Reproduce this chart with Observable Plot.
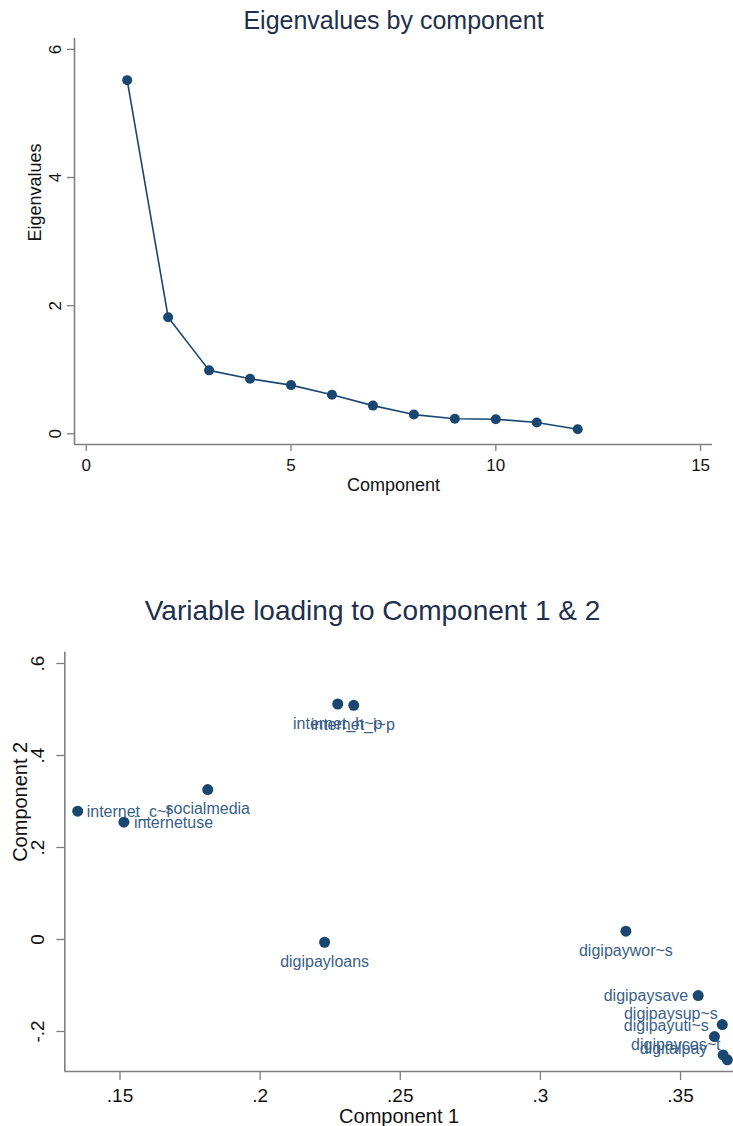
<!DOCTYPE html>
<html><head><meta charset="utf-8">
<script src="https://cdn.jsdelivr.net/npm/d3@7"></script>
<script src="https://cdn.jsdelivr.net/npm/@observablehq/plot@0.6"></script>
<style>
body{margin:0;background:#fff;}
#wrap{position:relative;width:733px;height:1126px;overflow:hidden;background:#fff;}
#top{position:absolute;left:0;top:0;}
#bottom{position:absolute;left:0;top:500px;}
svg{overflow:visible;}
</style></head><body><div id="wrap"><div id="top"></div><div id="bottom"></div></div>
<script>
// ---- Data: scree plot ----
const components = [1, 2, 3, 4, 5, 6, 7, 8, 9, 10, 11, 12];
const eigenvalues = [5.52, 1.82, 0.99, 0.86, 0.76, 0.61, 0.44, 0.30, 0.235, 0.228, 0.177, 0.072];
const eigenTicksX = [0, 5, 10, 15];
const eigenTickLabelsX = ["0", "5", "10", "15"];
const eigenTicksY = [0, 2, 4, 6];
const eigenTickLabelsY = ["0", "2", "4", "6"];

// ---- Data: loading plot ----
const varNames = ["internet_c~f", "internetuse", "socialmedia", "internet_h~p", "internet_i~p",
  "digipayloans", "digipaywor~s", "digipaysave", "digipaysup~s", "digipayuti~s", "digipaycos~t", "digitalpay"];
const comp1 = [0.1349, 0.1514, 0.1813, 0.2277, 0.2334, 0.2230, 0.3305, 0.3563, 0.3649, 0.3621, 0.3652, 0.3667];
const comp2 = [0.279, 0.255, 0.326, 0.512, 0.509, -0.006, 0.018, -0.122, -0.185, -0.211, -0.251, -0.2615];
const loadTicksX = [0.15, 0.2, 0.25, 0.3, 0.35];
const loadTickLabelsX = [".15", ".2", ".25", ".3", ".35"];
const loadTicksY = [-0.2, 0, 0.2, 0.4, 0.6];
const loadTickLabelsY = ["-.2", "0", ".2", ".4", ".6"];

// ---- Styles ----
const font = "'Liberation Sans', Arial, Helvetica, sans-serif";
const navy = "#1a476f";
const labelColor = "#3a5f88";
const axisGray = "#7f7f7f";
const textColor = "#111111";
const titleColor = "#1f2f4d";

// ---- Top chart ----
const eig = components.map((c, i) => ({c, v: eigenvalues[i]}));
const xDomTop = [-0.286, 15.29];
const yDomTop = [-0.167, 6.17];
const topChart = Plot.plot({
  width: 733, height: 500,
  marginLeft: 74, marginRight: 21, marginTop: 38, marginBottom: 56,
  style: {fontFamily: font, background: "#fff", overflow: "visible"},
  x: {domain: xDomTop},
  y: {domain: yDomTop},
  marks: [
    Plot.ruleX([xDomTop[0]], {stroke: axisGray, strokeWidth: 1.6}),
    Plot.ruleY([yDomTop[0]], {stroke: axisGray, strokeWidth: 1.6}),
    Plot.axisX({ticks: eigenTicksX, tickFormat: d => eigenTickLabelsX[eigenTicksX.indexOf(d)], tickSize: 7, tickPadding: 7, fontSize: 17, color: textColor, stroke: axisGray, strokeWidth: 1.3, label: null}),
    Plot.axisY({ticks: eigenTicksY, tickFormat: d => eigenTickLabelsY[eigenTicksY.indexOf(d)], tickSize: 7, tickPadding: 7, tickRotate: -90, fontSize: 17, color: textColor, stroke: axisGray, strokeWidth: 1.3, label: null}),
    Plot.line(eig, {x: "c", y: "v", stroke: navy, strokeWidth: 1.6}),
    Plot.dot(eig, {x: "c", y: "v", r: 5, fill: navy, stroke: "none"}),
    Plot.text(["Eigenvalues by component"], {text: d => d, frameAnchor: "top", dy: -17.5, lineAnchor: "middle", fontSize: 25, fill: titleColor}),
    Plot.text(["Component"], {text: d => d, frameAnchor: "bottom", dy: 40.5, lineAnchor: "middle", fontSize: 18, fill: textColor}),
    Plot.text(["Eigenvalues"], {text: d => d, frameAnchor: "left", dx: -39, rotate: -90, lineAnchor: "middle", fontSize: 18, fill: textColor})
  ]
});
document.getElementById("top").appendChild(topChart);

// ---- Bottom chart ----
const load = varNames.map((n, i) => ({n, x: comp1[i], y: comp2[i]}));
const placement = {
  "internet_c~f": ["start", 9, 1],
  "internetuse": ["start", 10, 0.6],
  "socialmedia": ["middle", 0, 19],
  "internet_h~p": ["middle", 0, 19.5],
  "internet_i~p": ["middle", -1, 20],
  "digipayloans": ["middle", 0, 19.3],
  "digipaywor~s": ["middle", 0, 19.3],
  "digipaysave": ["end", -10, 0],
  "digipaysup~s": ["end", -4.5, -10.7],
  "digipayuti~s": ["end", -5.7, -11],
  "digipaycos~t": ["end", -2.7, -10],
  "digitalpay": ["end", -20, -11]
};
const labelMarks = varNames.map(name => {
  const [anchor, dx, dy] = placement[name];
  return Plot.text(load.filter(d => d.n === name), {x: "x", y: "y", text: "n", textAnchor: anchor, dx, dy, lineAnchor: "middle", fontSize: 16, fill: labelColor});
});
const xDomBot = [0.1303, 0.3689];
const yDomBot = [-0.287, 0.6246];
const bottomChart = Plot.plot({
  width: 733, height: 626,
  marginLeft: 64.3, marginRight: 0, marginTop: 151.7, marginBottom: 55,
  style: {fontFamily: font, background: "#fff", overflow: "visible"},
  x: {domain: xDomBot},
  y: {domain: yDomBot},
  marks: [
    Plot.ruleX([xDomBot[0]], {stroke: axisGray, strokeWidth: 1.6}),
    Plot.ruleY([yDomBot[0]], {stroke: axisGray, strokeWidth: 1.6}),
    Plot.axisX({ticks: loadTicksX, tickFormat: d => loadTickLabelsX[loadTicksX.indexOf(d)], tickSize: 9, tickPadding: 8, fontSize: 19, color: textColor, stroke: axisGray, strokeWidth: 1.3, label: null}),
    Plot.axisY({ticks: loadTicksY, tickFormat: d => loadTickLabelsY[loadTicksY.indexOf(d)], tickSize: 8, tickPadding: 13, tickRotate: -90, fontSize: 19, color: textColor, stroke: axisGray, strokeWidth: 1.3, label: null}),
    Plot.dot(load, {x: "x", y: "y", r: 5.5, fill: navy, stroke: "none"}),
    ...labelMarks,
    Plot.text(["Variable loading to Component 1 & 2"], {text: d => d, frameAnchor: "top-left", dx: 307.7, dy: -41.2, textAnchor: "middle", lineAnchor: "middle", fontSize: 28, fill: titleColor}),
    Plot.text(["Component 1"], {text: d => d, frameAnchor: "bottom", dy: 45.5, lineAnchor: "middle", fontSize: 20, fill: textColor}),
    Plot.text(["Component 2"], {text: d => d, frameAnchor: "left", dx: -44.3, rotate: -90, lineAnchor: "middle", fontSize: 20, fill: textColor})
  ]
});
document.getElementById("bottom").appendChild(bottomChart);
</script>
</body></html>
